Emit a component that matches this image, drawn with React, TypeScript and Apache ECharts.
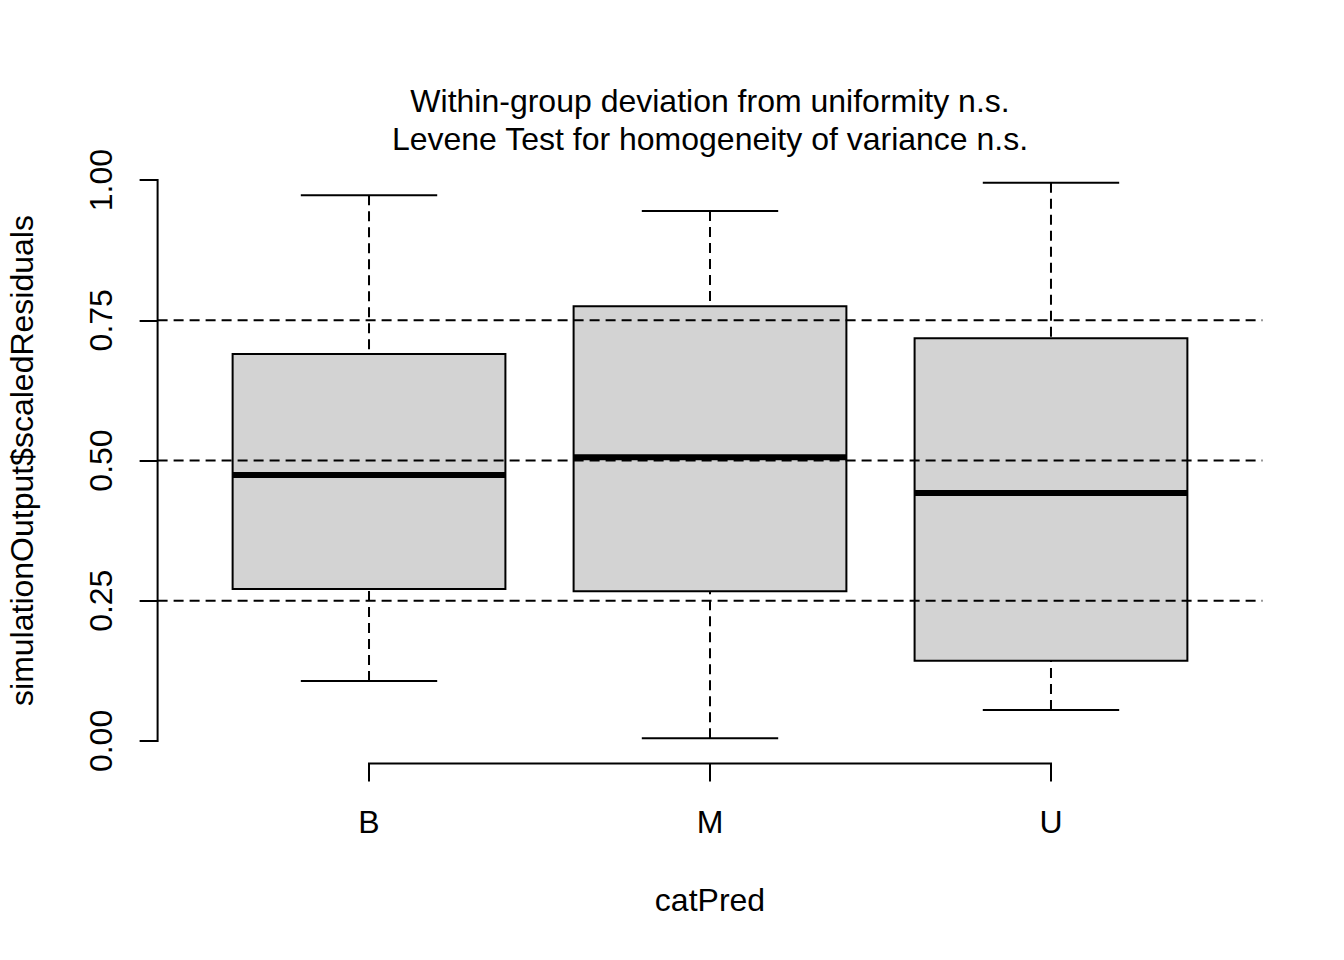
import React, { useEffect, useRef } from 'react';
import * as echarts from 'echarts';

// ---- data ----
const categories = ['B', 'M', 'U'];
const whiskerLow = [0.107, 0.005, 0.055];
const lowerQuartile = [0.271, 0.267, 0.143];
const medians = [0.474, 0.506, 0.442];
const upperQuartile = [0.69, 0.775, 0.718];
const whiskerHigh = [0.973, 0.945, 0.995];
const yTicks = [0, 0.25, 0.5, 0.75, 1];
const referenceLines = [0.25, 0.5, 0.75];
const titleText = 'Within-group deviation from uniformity n.s.\nLevene Test for homogeneity of variance n.s.';
const xName = 'catPred';
const yName = 'simulationOutput$scaledResiduals';

const FONT = '"Liberation Sans", Arial, Helvetica, sans-serif';
const X_MIN = 0.38;
const X_MAX = 3.62;
const Y_MIN = -0.04;
const Y_MAX = 1.04;
const BOX_HALF = 0.4;
const CAP_HALF = 0.2;

export default function App() {
  const ref = useRef<HTMLDivElement>(null);

  useEffect(() => {
    document.body.style.margin = '0';
    if (!ref.current) return;
    const chart = echarts.init(ref.current, null, { renderer: 'svg' });
    const xValues = categories.map((_, i) => i + 1);
    const boxData = categories.map((_, i) => [
      i + 1,
      whiskerLow[i],
      lowerQuartile[i],
      medians[i],
      upperQuartile[i],
      whiskerHigh[i],
    ]);

    const textStyle = { fontFamily: FONT, fontSize: 32, color: '#000', lineHeight: 32 };

    const option: any = {
      animation: false,
      backgroundColor: '#fff',
      title: {
        text: titleText,
        left: 710,
        top: 82,
        padding: 0,
        textAlign: 'center',
        textStyle: { fontFamily: FONT, fontSize: 32, fontWeight: 'normal', color: '#000', lineHeight: 38 },
      },
      grid: {
        left: 157.6,
        right: 81.6,
        top: 157.6,
        bottom: 196.6,
        containLabel: false,
        outerBoundsMode: 'none',
      },
      xAxis: {
        type: 'value',
        min: X_MIN,
        max: X_MAX,
        axisLine: { show: false, onZero: false },
        splitLine: { show: false },
        axisTick: {
          show: true,
          customValues: xValues,
          length: 18,
          lineStyle: { color: '#000', width: 2 },
        },
        axisLabel: {
          customValues: xValues,
          formatter: (v: number) => categories[Math.round(v) - 1] ?? '',
          margin: 43,
          ...textStyle,
        },
        name: xName,
        nameLocation: 'middle',
        nameGap: 121,
        nameMoveOverlap: false,
        nameTextStyle: { ...textStyle },
      },
      yAxis: {
        type: 'value',
        min: Y_MIN,
        max: Y_MAX,
        axisLine: { show: false, onZero: false },
        splitLine: { show: false },
        axisTick: {
          show: true,
          customValues: yTicks,
          length: 18,
          lineStyle: { color: '#000', width: 2 },
        },
        axisLabel: {
          customValues: yTicks,
          formatter: (v: number) => v.toFixed(2),
          rotate: 90,
          margin: 41,
          ...textStyle,
        },
        name: yName,
        nameLocation: 'middle',
        nameRotate: 90,
        nameGap: 120,
        nameMoveOverlap: false,
        nameTextStyle: { ...textStyle },
      },
      series: [
        {
          type: 'custom',
          name: 'boxes',
          data: boxData,
          encode: { x: 0, y: [1, 2, 3, 4, 5] },
          z: 2,
          renderItem: (params: any, api: any) => {
            const x = api.value(0);
            const lo = api.value(1);
            const q1 = api.value(2);
            const med = api.value(3);
            const q3 = api.value(4);
            const hi = api.value(5);
            const p = (a: number, b: number) => api.coord([a, b]);
            const line = (a: number[], b: number[], extra: any) => ({
              type: 'line',
              shape: { x1: a[0], y1: a[1], x2: b[0], y2: b[1] },
              style: { stroke: '#000', fill: null, lineWidth: 2, ...extra },
            });
            const tl = p(x - BOX_HALF, q3);
            const br = p(x + BOX_HALF, q1);
            return {
              type: 'group',
              children: [
                line(p(x, hi), p(x, q3), { lineDash: [10, 6] }),
                line(p(x, lo), p(x, q1), { lineDash: [10, 6] }),
                line(p(x - CAP_HALF, hi), p(x + CAP_HALF, hi), {}),
                line(p(x - CAP_HALF, lo), p(x + CAP_HALF, lo), {}),
                {
                  type: 'rect',
                  shape: { x: tl[0], y: tl[1], width: br[0] - tl[0], height: br[1] - tl[1] },
                  style: { fill: '#D3D3D3', stroke: '#000', lineWidth: 2 },
                },
                line(p(x - BOX_HALF, med), p(x + BOX_HALF, med), { lineWidth: 6 }),
              ],
            };
          },
        },
        {
          type: 'custom',
          name: 'reference',
          data: referenceLines.map((v) => [X_MIN, v]),
          encode: { x: 0, y: 1 },
          z: 3,
          renderItem: (params: any, api: any) => {
            const v = api.value(1);
            const a = api.coord([X_MIN, v]);
            const b = api.coord([X_MAX, v]);
            return {
              type: 'line',
              shape: { x1: a[0], y1: a[1], x2: b[0], y2: b[1] },
              style: { stroke: '#000', fill: null, lineWidth: 2, lineDash: [10, 6] },
            };
          },
        },
        {
          type: 'custom',
          name: 'axes',
          data: [[X_MIN, Y_MIN]],
          encode: { x: 0, y: 1 },
          z: 4,
          renderItem: (params: any, api: any) => {
            const y0 = api.coord([X_MIN, yTicks[0]]);
            const y1 = api.coord([X_MIN, yTicks[yTicks.length - 1]]);
            const x0 = api.coord([xValues[0], Y_MIN]);
            const x1 = api.coord([xValues[xValues.length - 1], Y_MIN]);
            return {
              type: 'group',
              children: [
                {
                  type: 'line',
                  shape: { x1: y0[0], y1: y0[1] + 1, x2: y1[0], y2: y1[1] - 1 },
                  style: { stroke: '#000', fill: null, lineWidth: 2 },
                },
                {
                  type: 'line',
                  shape: { x1: x0[0] - 1, y1: x0[1], x2: x1[0] + 1, y2: x1[1] },
                  style: { stroke: '#000', fill: null, lineWidth: 2 },
                },
              ],
            };
          },
        },
      ],
    };

    chart.setOption(option);
    return () => chart.dispose();
  }, []);

  return <div ref={ref} style={{ width: 1344, height: 960 }} />;
}
